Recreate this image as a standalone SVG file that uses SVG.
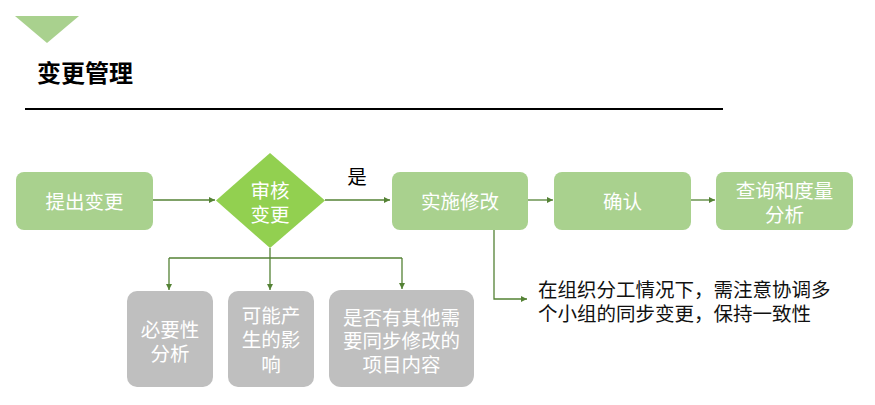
<svg xmlns="http://www.w3.org/2000/svg" width="875" height="405" viewBox="0 0 875 405">
<style>
text{font-family:"Noto Sans CJK SC","Microsoft YaHei",sans-serif;font-size:19.5px;text-anchor:middle;dominant-baseline:central}
.w{fill:#ffffff}
.g{fill:#A9D18E}
.gr{fill:#BFBFBF}
.c{fill:none;stroke:#548235;stroke-width:1.3}
.k{fill:#000000}
</style>
<defs>
<marker id="a" viewBox="0 0 10 10" refX="10" refY="5" markerWidth="6" markerHeight="6" orient="auto" markerUnits="userSpaceOnUse">
<path d="M0,0 L10,5 L0,10 Z" fill="#548235"/>
</marker>
</defs>
<rect width="875" height="405" fill="#ffffff"/>
<g id="header">
<polygon points="15,16 79,16 47,43" fill="#A9D18E"/>
<text x="37" y="71" style="font-size:24px;font-weight:bold;text-anchor:start" class="k">变更管理</text>
<line x1="25" y1="109" x2="723" y2="109" stroke="#000" stroke-width="2"/>
</g>
<g id="connectors">
<line class="c" x1="153" y1="200" x2="215" y2="200" marker-end="url(#a)"/>
<line class="c" x1="325" y1="200" x2="390" y2="200" marker-end="url(#a)"/>
<line class="c" x1="528" y1="200" x2="553" y2="200" marker-end="url(#a)"/>
<line class="c" x1="691" y1="200" x2="715" y2="200" marker-end="url(#a)"/>
<path class="c" d="M270,248 V258"/>
<path class="c" d="M169,258 H402"/>
<line class="c" x1="169" y1="258" x2="169" y2="290" marker-end="url(#a)"/>
<line class="c" x1="270" y1="258" x2="270" y2="290" marker-end="url(#a)"/>
<line class="c" x1="402" y1="258" x2="402" y2="289" marker-end="url(#a)"/>
<path class="c" d="M494,230 V299 H527" marker-end="url(#a)"/>
</g>
<g id="yes-label"><text x="357" y="175" class="k">是</text></g>
<g id="n1"><rect x="16" y="172" width="137" height="58" rx="8" class="g"/><text x="84.5" y="200" class="w">提出变更</text></g>
<g id="n2"><polygon points="270,153 325,200.5 270,248 216,200.5" fill="#92D050"/><text x="270" y="189" class="w">审核</text><text x="270" y="213" class="w">变更</text></g>
<g id="n3"><rect x="392" y="172" width="136" height="58" rx="8" class="g"/><text x="460" y="200" class="w">实施修改</text></g>
<g id="n4"><rect x="554" y="172" width="137" height="58" rx="8" class="g"/><text x="622.5" y="200" class="w">确认</text></g>
<g id="n5"><rect x="716" y="172" width="137" height="58" rx="8" class="g"/><text x="784.5" y="189" class="w">查询和度量</text><text x="784.5" y="213" class="w">分析</text></g>
<g id="n6"><rect x="127" y="291" width="86" height="96" rx="10" class="gr"/><text x="170" y="328" class="w">必要性</text><text x="170" y="352" class="w">分析</text></g>
<g id="n7"><rect x="228" y="291" width="86" height="96" rx="10" class="gr"/><text x="271" y="314" class="w">可能产</text><text x="271" y="338" class="w">生的影</text><text x="271" y="363" class="w">响</text></g>
<g id="n8"><rect x="329" y="290" width="145" height="97" rx="12" class="gr"/><text x="401.5" y="316" class="w">是否有其他需</text><text x="401.5" y="339" class="w">要同步修改的</text><text x="401.5" y="363" class="w">项目内容</text></g>
<g id="note"><text x="538" y="288" class="k" style="text-anchor:start;fill:#111">在组织分工情况下，需注意协调多</text><text x="538" y="312" class="k" style="text-anchor:start;fill:#111">个小组的同步变更，保持一致性</text></g>
</svg>
